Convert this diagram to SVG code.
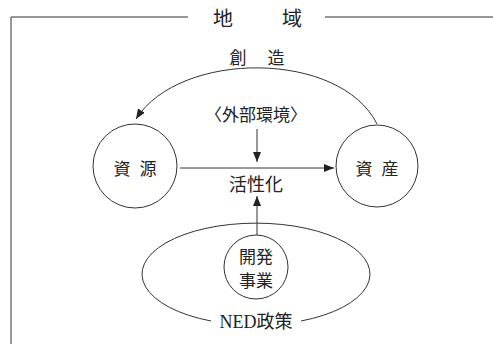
<svg xmlns="http://www.w3.org/2000/svg" width="493" height="344" viewBox="0 0 493 344">
<style>
text{font-family:"Liberation Serif","Noto Sans CJK JP",serif;fill:#222;text-anchor:middle}
.ln{fill:none;stroke:#333;stroke-width:1}
.big{font-size:20px}
.t{font-size:17px}
</style>
<defs>
<marker id="ah" viewBox="0 0 10 10" refX="10" refY="5" markerWidth="10" markerHeight="10" markerUnits="userSpaceOnUse" orient="auto">
<path d="M0,1 L10,5 L0,9 Z" fill="#222"/>
</marker>
</defs>
<rect width="493" height="344" fill="#fff"/>
<g id="frame">
<path class="ln" d="M11,344 V17 H188 M325,17 H493"/>
<text class="big" x="223" y="26">地</text>
<text class="big" x="292" y="26">域</text>
</g>
<g id="connectors">
<path class="ln" d="M377,124 C340,50 180,50 136,119" marker-end="url(#ah)"/>
<path class="ln" d="M180,168 H334" marker-end="url(#ah)"/>
<path class="ln" d="M257,129 V162" marker-end="url(#ah)"/>
<path class="ln" d="M257,235 V196" marker-end="url(#ah)"/>
</g>
<g id="label-souzou">
<text class="t" x="238" y="64">創</text>
<text class="t" x="276" y="64">造</text>
</g>
<g id="gaibu">
<text class="t" x="256" y="121">〈外部環境〉</text>
</g>
<g id="shigen">
<circle class="ln" cx="135" cy="166" r="42"/>
<text class="t" x="122" y="175">資</text>
<text class="t" x="148" y="175">源</text>
</g>
<g id="shisan">
<circle class="ln" cx="377" cy="166" r="41"/>
<text class="t" x="364" y="175">資</text>
<text class="t" x="390" y="175">産</text>
</g>
<g id="kasseika">
<text class="t" x="256" y="191" style="font-size:18px">活性化</text>
</g>
<g id="ned">
<path class="ln" d="M211,321 A114,51 0 1 1 301,321"/>
<text class="t" x="256" y="328" style="font-size:18px">NED政策</text>
</g>
<g id="kaihatsu">
<circle class="ln" cx="256" cy="267" r="32"/>
<text class="t" x="256" y="263">開発</text>
<text class="t" x="256" y="287">事業</text>
</g>
</svg>
